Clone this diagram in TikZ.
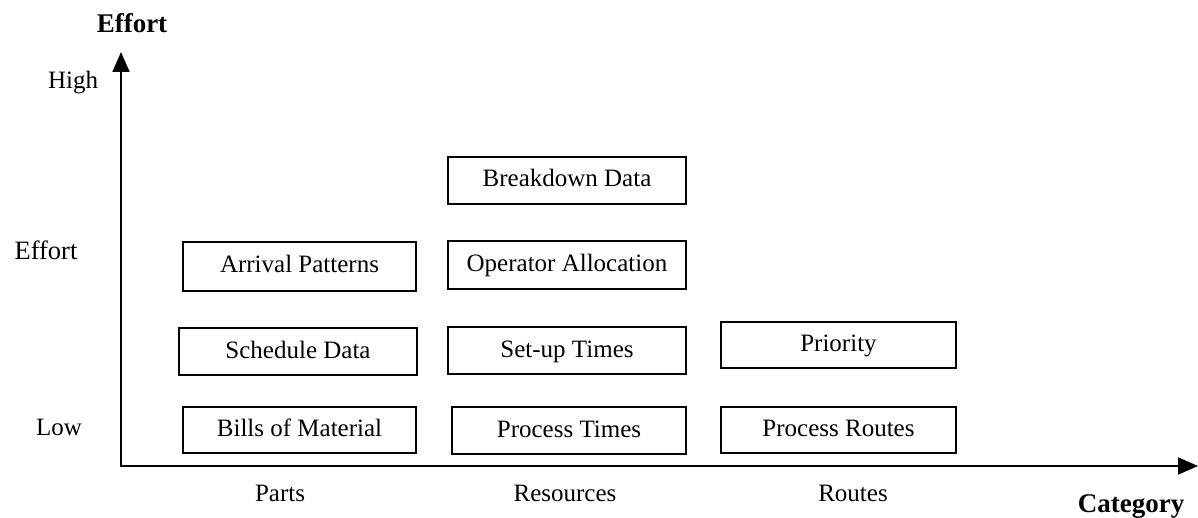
\documentclass[tikz,border=0pt]{standalone}
\usepackage{fontspec}
\setmainfont{Liberation Serif}
\usetikzlibrary{arrows.meta}
\tikzset{
  item/.style={draw, line width=1.6pt, minimum height=47pt, inner sep=0pt,
    text height=17pt, text depth=4pt,
    font=\fontsize{25}{30}\selectfont},
  lbl/.style={inner sep=0pt, font=\fontsize{25}{30}\selectfont},
  axistitle/.style={inner sep=0pt, font=\fontsize{27}{32}\selectfont\bfseries},
  axis/.style={line width=1.8pt, -{Triangle[length=20pt,width=17pt]}}
}
\begin{document}
\begin{tikzpicture}[x=1pt,y=-1pt]
\useasboundingbox (0,0) rectangle (1198,518);
% axes
\coordinate (origin) at (121,466);
\coordinate (ytop) at (121,52);
\coordinate (xend) at (1198,466);
\draw[axis] (origin) -- (ytop);
\draw[axis] ([xshift=-0.9pt]origin) -- (xend);
% axis titles and scale labels
\node[axistitle] (ytitle) at (132,23) {Effort};
\node[axistitle] (xtitle) at (1131,507) {Category};
\node[lbl] (high) at (73,83) {High};
\node[lbl, font=\fontsize{26.5}{32}\selectfont] (mid) at (46,250) {Effort};
\node[lbl] (low) at (59,427) {Low};
\node[lbl] (parts) at (280,493) {Parts};
\node[lbl] (res) at (565,493) {Resources};
\node[lbl] (routes) at (853,493) {Routes};
% parts
\node[item, minimum width=233pt, minimum height=49pt] (arrival) at (299.5,266.5) {Arrival Patterns};
\node[item, minimum width=238pt] (sched) at (298,351.5) {Schedule Data};
\node[item, minimum width=233pt, minimum height=46pt] (bom) at (299.5,430) {Bills of Material};
% resources
\node[item, minimum width=238pt] (breakdown) at (567,180.5) {Breakdown Data};
\node[item, minimum width=238pt, minimum height=48pt] (operator) at (567,265) {Operator Allocation};
\node[item, minimum width=238pt] (setup) at (567,350.5) {Set-up Times};
\node[item, minimum width=234pt] (ptimes) at (569,430.5) {Process Times};
% routes
\node[item, minimum width=235pt, minimum height=46pt] (priority) at (838.5,345) {Priority};
\node[item, minimum width=235pt, minimum height=46pt] (proutes) at (838.5,430) {Process Routes};
\end{tikzpicture}
\end{document}
